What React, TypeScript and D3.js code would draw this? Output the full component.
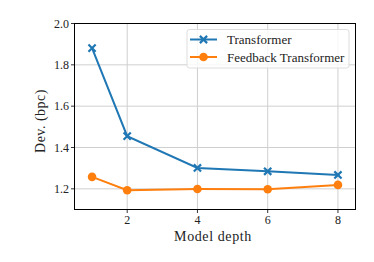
import React from 'react';
import * as d3 from 'd3';

const depths = [1, 2, 4, 6, 8];
const transformer = [1.881, 1.455, 1.301, 1.285, 1.267];
const feedback = [1.258, 1.193, 1.199, 1.198, 1.219];
const xTicks = [2, 4, 6, 8];
const yTicks = [1.2, 1.4, 1.6, 1.8, 2.0];

const W = 374;
const H = 262;
const margin = { left: 74.5, right: 18.5, top: 23.5, bottom: 52.5 };
const font = '"Liberation Serif", "DejaVu Serif", serif';
const BLUE = '#1f77b4';
const ORANGE = '#ff7f0e';

export default function App() {
  const x = d3.scaleLinear().domain([0.5, 8.5]).range([margin.left, W - margin.right]);
  const y = d3.scaleLinear().domain([1.1, 2.0]).range([H - margin.bottom, margin.top]);
  const line = d3.line<number>().x((_, i) => x(depths[i])).y((d) => y(d));

  // matplotlib-style 'x' marker
  const cross = (cx: number, cy: number, s: number, color: string, key: string) => (
    <path key={key} d={`M${cx - s},${cy - s}L${cx + s},${cy + s}M${cx - s},${cy + s}L${cx + s},${cy - s}`}
      stroke={color} strokeWidth={2.2} fill="none" />
  );

  return (
    <svg width={W} height={H} style={{ position: 'absolute', left: 0, top: 0 }} fontFamily={font}>
      <rect width={W} height={H} fill="white" />
      {/* grid */}
      {xTicks.map((t) => (
        <line key={'gx' + t} x1={x(t)} x2={x(t)} y1={margin.top} y2={H - margin.bottom} stroke="#cfcfcf" strokeWidth={1} />
      ))}
      {yTicks.map((t) => (
        <line key={'gy' + t} x1={margin.left} x2={W - margin.right} y1={y(t)} y2={y(t)} stroke="#cfcfcf" strokeWidth={1} />
      ))}
      {/* series */}
      <path d={line(transformer) ?? ''} stroke={BLUE} strokeWidth={2} fill="none" />
      {transformer.map((v, i) => cross(x(depths[i]), y(v), 3.6, BLUE, 't' + i))}
      <path d={line(feedback) ?? ''} stroke={ORANGE} strokeWidth={2} fill="none" />
      {feedback.map((v, i) => (
        <circle key={'f' + i} cx={x(depths[i])} cy={y(v)} r={4.3} fill={ORANGE} />
      ))}
      {/* spines */}
      <rect x={margin.left} y={margin.top} width={W - margin.left - margin.right} height={H - margin.top - margin.bottom}
        fill="none" stroke="black" strokeWidth={1} />
      {/* ticks */}
      {xTicks.map((t) => (
        <g key={'xt' + t}>
          <line x1={x(t)} x2={x(t)} y1={H - margin.bottom} y2={H - margin.bottom + 3.5} stroke="black" strokeWidth={0.8} />
          <text x={x(t)} y={224} textAnchor="middle" fontSize={12} fill="#222">{t}</text>
        </g>
      ))}
      {yTicks.map((t) => (
        <g key={'yt' + t}>
          <line x1={margin.left - 3.5} x2={margin.left} y1={y(t)} y2={y(t)} stroke="black" strokeWidth={0.8} />
          <text x={margin.left - 5.5} y={y(t) + 4.2} textAnchor="end" fontSize={12} fill="#222">{t.toFixed(1)}</text>
        </g>
      ))}
      {/* axis labels */}
      <text x={213} y={240.7} textAnchor="middle" fontSize={14} letterSpacing={0.6} fill="#222">Model depth</text>
      <text transform="translate(44.5,121) rotate(-90)" textAnchor="middle"
        fontSize={14} letterSpacing={0.5} fill="#222">Dev.  (bpc)</text>
      {/* legend */}
      <rect x={187} y={29.5} width={162} height={38.5} rx={2.5} fill="white" fillOpacity={0.8}
        stroke="#dddddd" strokeWidth={1} />
      <line x1={190} x2={217} y1={39.5} y2={39.5} stroke={BLUE} strokeWidth={2} />
      {cross(203.5, 39.5, 3.6, BLUE, 'lc')}
      <text x={227} y={44.3} fontSize={13} fill="#222">Transformer</text>
      <line x1={190} x2={217} y1={57} y2={57} stroke={ORANGE} strokeWidth={2} />
      <circle cx={203.5} cy={57} r={4.3} fill={ORANGE} />
      <text x={227} y={61.8} fontSize={13} fill="#222">Feedback Transformer</text>
    </svg>
  );
}
